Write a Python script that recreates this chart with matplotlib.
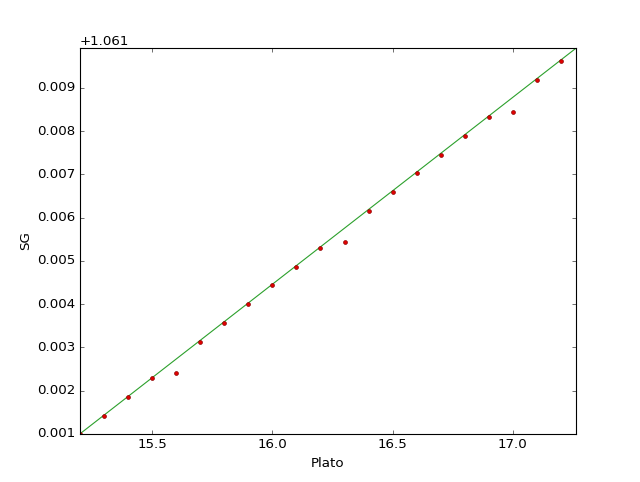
import matplotlib
matplotlib.use("Agg")
from matplotlib import pyplot as plt
from matplotlib.ticker import ScalarFormatter

plt.style.use('classic')

# measured points
plato = [15.2, 15.3, 15.4, 15.5, 15.6, 15.7, 15.8, 15.9, 16.0, 16.1, 16.2,
         16.3, 16.4, 16.5, 16.6, 16.7, 16.8, 16.9, 17.0, 17.1, 17.2]
sg = [1.06200, 1.06242, 1.06286, 1.06328, 1.06341, 1.06413, 1.06457,
      1.06500, 1.06543, 1.06586, 1.06630, 1.06643, 1.06715, 1.06759,
      1.06802, 1.06844, 1.06888, 1.06932, 1.06943, 1.07019, 1.07063]

# fitted line
fit_x = [15.2, 17.2625]
fit_y = [1.06200, 1.070915]

fig = plt.figure(figsize=(8, 6.025), dpi=80)
ax = fig.add_subplot(111)
ax.plot(fit_x, fit_y, '-', color='#2ca02c', lw=1)
ax.plot(plato, sg, '.', color='#e00000', mec='#8b0000', mew=0.6, ms=7)

ax.set_xlim(15.2, 17.2625)
ax.set_ylim(1.062, 1.070915)
fmt = ScalarFormatter(useOffset=1.061)
ax.yaxis.set_major_formatter(fmt)
ax.set_xlabel('Plato')
ax.set_ylabel('SG')

fig.savefig('out.png', dpi=80)
